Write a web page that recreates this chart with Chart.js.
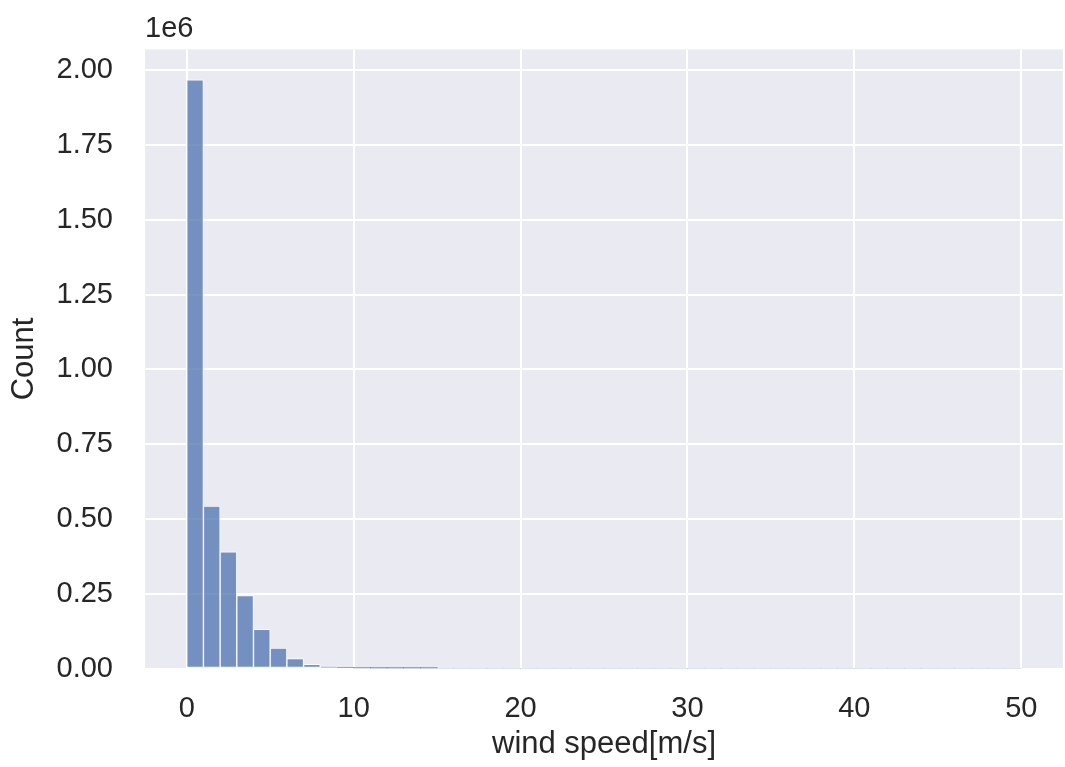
<!DOCTYPE html>
<html>
<head>
<meta charset="utf-8">
<script src="https://cdn.jsdelivr.net/npm/chart.js@4/dist/chart.umd.min.js"></script>
<style>
  html, body { margin: 0; padding: 0; background: #fff; }
  #wrap { width: 1065px; height: 767px; }
</style>
</head>
<body>
<div id="wrap"><canvas id="myChart" width="1065" height="767"></canvas></div>
<script>
// histogram of wind speed, bins of 1 m/s from 0 to 50
const binStarts = [0, 1, 2, 3, 4, 5, 6, 7, 8, 9, 10, 11, 12, 13, 14, 15, 16, 17, 18, 19,
  20, 21, 22, 23, 24, 25, 26, 27, 28, 29, 30, 31, 32, 33, 34, 35, 36, 37, 38, 39,
  40, 41, 42, 43, 44, 45, 46, 47, 48, 49];
const counts = [1968000, 543000, 390000, 244000, 131000, 68000, 33000, 14000, 6000, 2800,
  1300, 600, 120, 30, 8, 0, 0, 0, 0, 0,
  0, 0, 0, 0, 0, 0, 0, 0, 0, 0,
  0, 0, 0, 0, 0, 0, 0, 0, 0, 0,
  0, 0, 0, 0, 0, 0, 0, 0, 0, 0];
const xTicks = [0, 10, 20, 30, 40, 50];
const yTicks = [0, 250000, 500000, 750000, 1000000, 1250000, 1500000, 1750000, 2000000];
const binWidth = 1;

const txt = '#262626';
const fam = '"Liberation Sans", Arial, "DejaVu Sans", sans-serif';

const plotBg = {
  id: 'plotBg',
  beforeDraw(chart) {
    const { ctx, chartArea: a } = chart;
    ctx.save();
    ctx.fillStyle = '#EAEAF2';
    ctx.fillRect(a.left, a.top, a.right - a.left, a.bottom - a.top);
    ctx.restore();
  },
  afterDraw(chart) {
    // offset text of the y axis
    const { ctx, chartArea: a } = chart;
    ctx.save();
    ctx.fillStyle = txt;
    ctx.font = '29px ' + fam;
    ctx.textAlign = 'left';
    ctx.textBaseline = 'middle';
    ctx.fillText('1e6', a.left, 29);
    ctx.restore();
  }
};

const ctx = document.getElementById('myChart').getContext('2d');
const histChart = new Chart(ctx, {
  type: 'bar',
  data: {
    datasets: [{
      label: 'Count',
      data: binStarts.map((b, i) => ({ x: b + binWidth / 2, y: counts[i] })),
      backgroundColor: 'rgba(76, 114, 176, 0.75)',
      borderColor: 'rgba(255, 255, 255, 0.85)',
      // thin bars get no edge, as the edge would hide them
      borderWidth: c => (c.raw && c.raw.y > 4000 ? 1 : 0),
      borderSkipped: false,
      barPercentage: 1,
      categoryPercentage: 1
    }]
  },
  plugins: [plotBg],
  options: {
    responsive: false,
    animation: false,
    layout: { padding: { top: 45, right: 2, left: 0, bottom: 0 } },
    plugins: {
      legend: { display: false },
      tooltip: { enabled: false }
    },
    scales: {
      x: {
        type: 'linear',
        min: -2.5,
        max: 52.5,
        offset: false,
        afterFit(scale) {
          scale.height = 98.5;
          scale.paddingLeft = 0;
          scale.paddingRight = 0;
        },
        afterBuildTicks(scale) { scale.ticks = xTicks.map(v => ({ value: v })); },
        border: { display: false },
        grid: { color: '#ffffff', lineWidth: 2, drawTicks: false, offset: false },
        ticks: {
          color: txt,
          font: { family: fam, size: 29 },
          padding: 23,
          maxRotation: 0,
          callback: v => String(v)
        },
        title: {
          display: true,
          text: 'wind speed[m/s]',
          color: txt,
          font: { family: fam, size: 31 },
          padding: { top: 0, bottom: 4 }
        }
      },
      y: {
        min: 0,
        max: 2070000,
        afterFit(scale) { scale.width = 145; },
        afterBuildTicks(scale) { scale.ticks = yTicks.map(v => ({ value: v })); },
        border: { display: false },
        grid: { color: '#ffffff', lineWidth: 2, drawTicks: false },
        ticks: {
          color: txt,
          font: { family: fam, size: 29 },
          padding: 32,
          callback: v => (v / 1e6).toFixed(2)
        },
        title: {
          display: true,
          text: 'Count',
          color: txt,
          font: { family: fam, size: 31 },
          padding: { top: 6, bottom: 0 }
        }
      }
    }
  }
});
</script>
</body>
</html>
